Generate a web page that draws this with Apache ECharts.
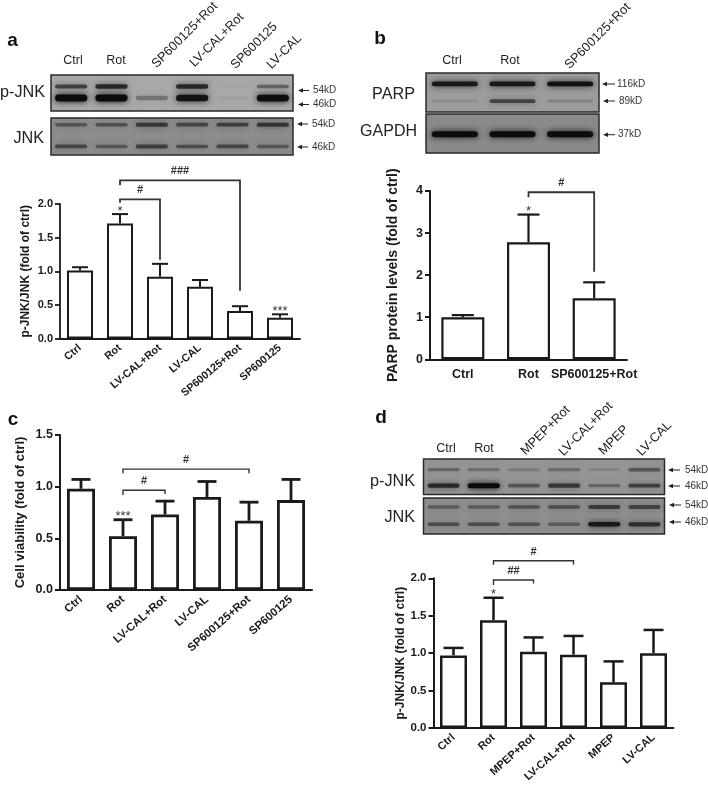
<!DOCTYPE html>
<html>
<head>
<meta charset="utf-8">
<script src="https://cdn.jsdelivr.net/npm/echarts@6/dist/echarts.min.js"></script>
<style>
  html, body { margin: 0; padding: 0; background: #fff; }
  #chart { width: 708px; height: 786px; }
</style>
</head>
<body>
<div id="chart"></div>
<script>
// bar chart data, one set per panel
const catsA = ["Ctrl", "Rot", "LV-CAL+Rot", "LV-CAL", "SP600125+Rot", "SP600125"];
const meansA = [1.01, 1.71, 0.92, 0.77, 0.41, 0.31];
const upperA = [1.06, 1.85, 1.11, 0.87, 0.48, 0.36];

const catsB = ["Ctrl", "Rot", "SP600125+Rot"];
const meansB = [1.0, 2.78, 1.45];
const upperB = [1.05, 3.44, 1.83];

const catsC = ["Ctrl", "Rot", "LV-CAL+Rot", "LV-CAL", "SP600125+Rot", "SP600125"];
const meansC = [0.98, 0.52, 0.73, 0.9, 0.67, 0.87];
const upperC = [1.07, 0.68, 0.86, 1.05, 0.85, 1.07];

const catsD = ["Ctrl", "Rot", "MPEP+Rot", "LV-CAL+Rot", "MPEP", "LV-CAL"];
const meansD = [0.97, 1.44, 1.02, 0.98, 0.61, 1.0];
const upperD = [1.07, 1.74, 1.21, 1.23, 0.89, 1.31];

// significance marks: bracket from one category to another, heights in axis units
const bracketsA = [
  { from: 1, to: 4, top: 2.35, leftEnd: 2.28, rightEnd: 0.71, label: "###" },
  { from: 1, to: 2, top: 2.07, leftEnd: 2.02, rightEnd: 1.17, label: "#" },
];
const bracketsB = [{ from: 1, to: 2, top: 3.97, leftEnd: 3.85, rightEnd: 2.08, label: "#" }];
const bracketsC = [
  { from: 1, to: 4, top: 1.17, leftEnd: 1.13, rightEnd: 1.13, label: "#" },
  { from: 1, to: 2, top: 0.965, leftEnd: 0.92, rightEnd: 0.93, label: "#" },
];
const bracketsD = [
  { from: 1, to: 3, top: 2.235, leftEnd: 2.18, rightEnd: 2.18, label: "#" },
  { from: 1, to: 2, top: 1.977, leftEnd: 1.91, rightEnd: 1.93, label: "##" },
];
const starsA = [{ cat: 1, value: 1.85, label: "*" }, { cat: 5, value: 0.36, label: "***" }];
const starsB = [{ cat: 1, value: 3.44, label: "*" }];
const starsC = [{ cat: 1, value: 0.68, label: "***" }];
const starsD = [{ cat: 1, value: 1.74, label: "*" }];

// blot band darkness per lane (0 = no band, 1 = black)
const blotA_pjnk54 = [0.6, 0.75, 0, 0.75, 0.02, 0.4];
const blotA_pjnk46 = [0.98, 0.98, 0.3, 0.9, 0.04, 0.95];
const blotA_jnk54 = [0.4, 0.42, 0.6, 0.5, 0.55, 0.62];
const blotA_jnk46 = [0.5, 0.38, 0.55, 0.45, 0.5, 0.38];
const blotB_parp116 = [0.85, 0.85, 0.9];
const blotB_parp89 = [0.1, 0.55, 0.16];
const blotB_gapdh = [0.95, 0.95, 0.95];
const blotD_pjnk54 = [0.32, 0.26, 0.18, 0.28, 0.12, 0.42];
const blotD_pjnk46 = [0.72, 1, 0.42, 0.62, 0.32, 0.58];
const blotD_jnk54 = [0.36, 0.36, 0.42, 0.46, 0.58, 0.52];
const blotD_jnk46 = [0.46, 0.46, 0.42, 0.36, 0.85, 0.68];

const FONT = "Liberation Sans";
const INK = "#1a1a1a";
const grids = [];
const xAxes = [];
const yAxes = [];
const series = [];
const graphic = [];

function addBarPanel(p) {
  const idx = grids.length;
  grids.push({ left: p.left, top: p.top, width: p.width, height: p.height });
  xAxes.push({
    gridIndex: idx,
    type: "category",
    data: p.cats,
    axisLine: { lineStyle: { color: INK, width: p.axisWidth } },
    axisTick: { alignWithLabel: true, length: 5, lineStyle: { color: INK, width: p.axisWidth } },
    axisLabel: {
      interval: 0,
      rotate: p.rotate,
      margin: p.rotate ? 8 : 9,
      color: INK,
      fontFamily: FONT,
      fontWeight: "bold",
      fontSize: p.xFont,
    },
  });
  yAxes.push({
    gridIndex: idx,
    type: "value",
    min: 0,
    max: p.max,
    interval: p.interval,
    name: p.yName,
    nameLocation: "middle",
    nameGap: p.nameGap,
    nameTextStyle: { color: INK, fontFamily: FONT, fontWeight: "bold", fontSize: p.nameFont },
    axisLine: { show: true, lineStyle: { color: INK, width: p.axisWidth } },
    axisTick: { show: true, length: 5, lineStyle: { color: INK, width: p.axisWidth } },
    axisLabel: {
      color: INK,
      fontFamily: FONT,
      fontWeight: "bold",
      fontSize: p.yFont,
      margin: 7,
      formatter: (v) => (p.interval < 1 ? v.toFixed(1) : String(v)),
    },
    splitLine: { show: false },
  });
  series.push({
    type: "bar",
    xAxisIndex: idx,
    yAxisIndex: idx,
    data: p.means,
    barWidth: p.barWidth,
    silent: true,
    itemStyle: { color: "#fff", borderColor: INK, borderWidth: p.barLine },
  });
  // error bars, only the upper half is drawn
  series.push({
    type: "custom",
    xAxisIndex: idx,
    yAxisIndex: idx,
    silent: true,
    z: 1,
    encode: { x: 0, y: 1 },
    data: p.means.map((m, i) => [i, m, p.upper[i]]),
    renderItem: (params, api) => {
      const a = api.coord([api.value(0), api.value(1)]);
      const b = api.coord([api.value(0), api.value(2)]);
      const style = { stroke: INK, lineWidth: p.barLine };
      return {
        type: "group",
        children: [
          { type: "line", shape: { x1: a[0], y1: a[1], x2: b[0], y2: b[1] }, style },
          { type: "line", shape: { x1: b[0] - p.cap / 2, y1: b[1], x2: b[0] + p.cap / 2, y2: b[1] }, style },
        ],
      };
    },
  });
  series.push({
    type: "custom",
    xAxisIndex: idx,
    yAxisIndex: idx,
    silent: true,
    clip: false,
    z: 3,
    encode: { x: 0, y: 1 },
    data: p.brackets.map((b) => [b.from, b.top]),
    renderItem: (params, api) => {
      const b = p.brackets[params.dataIndex];
      const l0 = api.coord([b.from, b.top]);
      const l1 = api.coord([b.from, b.leftEnd]);
      const r0 = api.coord([b.to, b.top]);
      const r1 = api.coord([b.to, b.rightEnd]);
      return {
        type: "group",
        children: [
          {
            type: "polyline",
            shape: { points: [l1, l0, r0, r1] },
            style: { stroke: "#333", lineWidth: p.bracketWidth, fill: null },
          },
          {
            type: "text",
            x: (l0[0] + r0[0]) / 2,
            y: l0[1] - 9,
            style: {
              text: b.label,
              fill: "#333",
              font: "bold 11px " + FONT,
              align: "center",
              verticalAlign: "middle",
            },
          },
        ],
      };
    },
  });
  series.push({
    type: "custom",
    xAxisIndex: idx,
    yAxisIndex: idx,
    silent: true,
    clip: false,
    z: 3,
    encode: { x: 0, y: 1 },
    data: p.stars.map((s) => [s.cat, s.value]),
    renderItem: (params, api) => {
      const s = p.stars[params.dataIndex];
      const c = api.coord([s.cat, s.value]);
      return {
        type: "text",
        x: c[0],
        y: c[1] - 3,
        style: { text: s.label, fill: "#333", font: "13px " + FONT, align: "center", verticalAlign: "middle" },
      };
    },
  });
}

// one western blot strip: a dark framed grid, lanes on a hidden category axis, band rows on a 0-1 axis
function addBlot(b) {
  const idx = grids.length;
  const lanes = b.rows[0].values.map((v, i) => i);
  grids.push({
    left: b.left,
    top: b.top,
    width: b.width,
    height: b.height,
    show: true,
    backgroundColor: b.bg,
    borderColor: "#2a2a2a",
    borderWidth: 1.5,
  });
  xAxes.push({ gridIndex: idx, type: "category", data: lanes, show: false });
  yAxes.push({ gridIndex: idx, type: "value", min: 0, max: 1, show: false, splitLine: { show: false } });
  b.rows.forEach((row) => {
    series.push({
      type: "custom",
      xAxisIndex: idx,
      yAxisIndex: idx,
      silent: true,
      encode: { x: 0, y: 1 },
      data: row.values.map((v, i) => [i, row.y, v]),
      renderItem: (params, api) => {
        const c = api.coord([api.value(0), api.value(1)]);
        const laneW = api.size([1, 0])[0];
        const dark = api.value(2);
        const w = laneW * 0.8;
        const h = row.h * (0.5 + 0.5 * dark);
        const color = "rgba(10,10,10," + dark + ")";
        return {
          type: "rect",
          shape: { x: c[0] - w / 2, y: c[1] - h / 2, width: w, height: h, r: h / 2 },
          style: { fill: color, shadowBlur: 6, shadowColor: color },
        };
      },
    });
  });
}

function addText(text, x, y, size, opts) {
  opts = opts || {};
  graphic.push({
    type: "text",
    x: x,
    y: y,
    rotation: opts.rotation || 0,
    silent: true,
    style: {
      text: text,
      fill: opts.color || INK,
      font: (opts.bold ? "bold " : "") + size + "px " + FONT,
      align: opts.align || "left",
      verticalAlign: "middle",
    },
  });
}

function addLaneLabels(list) {
  list.forEach((l) => {
    if (l.length === 3) addText(l[0], l[1], l[2], 12.5, { align: "center", color: "#222" });
    else addText(l[0], l[1], l[2], 12.8, { rotation: Math.PI / 4, color: "#222" });
  });
}

function addMarker(text, tip, tail, y, textX) {
  graphic.push({
    type: "line",
    silent: true,
    shape: { x1: tip + 2, y1: y, x2: tail, y2: y },
    style: { stroke: "#222", lineWidth: 1 },
  });
  graphic.push({
    type: "polygon",
    silent: true,
    shape: { points: [[tip, y], [tip + 5, y - 2.2], [tip + 5, y + 2.2]] },
    style: { fill: "#222" },
  });
  addText(text, textX, y, 10, { color: "#333" });
}

addBarPanel({
  left: 60, top: 204, width: 240, height: 134.5,
  cats: catsA, means: meansA, upper: upperA, brackets: bracketsA, stars: starsA,
  max: 2, interval: 0.5, barWidth: 26, cap: 16, bracketWidth: 1.8, barLine: 2, axisWidth: 1.8,
  yName: "p-JNK/JNK (fold of ctrl)", nameGap: 28, nameFont: 12, yFont: 11, xFont: 10.8, rotate: 40,
});
addBarPanel({
  left: 430, top: 191, width: 197, height: 168.3,
  cats: catsB, means: meansB, upper: upperB, brackets: bracketsB, stars: starsB,
  max: 4, interval: 1, barWidth: 43, cap: 22, bracketWidth: 1.8, barLine: 2.2, axisWidth: 2,
  yName: "PARP protein levels (fold of ctrl)", nameGap: 30, nameFont: 14, yFont: 12.5, xFont: 12.5, rotate: 0,
});
addBarPanel({
  left: 60, top: 435, width: 252, height: 155,
  cats: catsC, means: meansC, upper: upperC, brackets: bracketsC, stars: starsC,
  max: 1.5, interval: 0.5, barWidth: 28, cap: 19, bracketWidth: 1.4, barLine: 2.8, axisWidth: 2,
  yName: "Cell viability (fold of ctrl)", nameGap: 33, nameFont: 13, yFont: 12.5, xFont: 11.4, rotate: 41,
});
addBarPanel({
  left: 433.5, top: 578.3, width: 240, height: 149.7,
  cats: catsD, means: meansD, upper: upperD, brackets: bracketsD, stars: starsD,
  max: 2, interval: 0.5, barWidth: 27, cap: 20, bracketWidth: 1.4, barLine: 2.5, axisWidth: 2,
  yName: "p-JNK/JNK (fold of ctrl)", nameGap: 27, nameFont: 12, yFont: 11.5, xFont: 11, rotate: 42,
});

addBlot({
  left: 51, top: 75, width: 242, height: 36, bg: "#a8a8a8",
  rows: [{ y: 0.68, h: 5, values: blotA_pjnk54 }, { y: 0.36, h: 7, values: blotA_pjnk46 }],
});
addBlot({
  left: 51, top: 118, width: 242, height: 37, bg: "#8c8c8c",
  rows: [{ y: 0.82, h: 5, values: blotA_jnk54 }, { y: 0.23, h: 5, values: blotA_jnk46 }],
});
addBlot({
  left: 426, top: 73, width: 173, height: 39, bg: "#9c9c9c",
  rows: [{ y: 0.72, h: 5, values: blotB_parp116 }, { y: 0.28, h: 5, values: blotB_parp89 }],
});
addBlot({
  left: 426, top: 114, width: 173, height: 39, bg: "#8a8a8a",
  rows: [{ y: 0.48, h: 6, values: blotB_gapdh }],
});
addBlot({
  left: 423.5, top: 459, width: 241, height: 35.5, bg: "#959595",
  rows: [{ y: 0.7, h: 5, values: blotD_pjnk54 }, { y: 0.25, h: 5, values: blotD_pjnk46 }],
});
addBlot({
  left: 423.5, top: 498, width: 241, height: 36, bg: "#8e8e8e",
  rows: [{ y: 0.75, h: 5, values: blotD_jnk54 }, { y: 0.27, h: 5, values: blotD_jnk46 }],
});

// panel letters
addText("a", 12.5, 41, 19, { bold: true, align: "center", color: "#111" });
addText("b", 380, 39, 19, { bold: true, align: "center", color: "#111" });
addText("c", 13, 420, 19, { bold: true, align: "center", color: "#111" });
addText("d", 381, 418, 19, { bold: true, align: "center", color: "#111" });

// blot labels
addText("p-JNK", 45, 93, 16.2, { align: "right", color: "#222" });
addText("JNK", 44, 139, 16.2, { align: "right", color: "#222" });
addText("PARP", 415, 95, 16.2, { align: "right", color: "#222" });
addText("GAPDH", 417, 132, 16, { align: "right", color: "#222" });
addText("p-JNK", 415, 482, 16.2, { align: "right", color: "#222" });
addText("JNK", 415, 518, 16.2, { align: "right", color: "#222" });

addLaneLabels([
  ["Ctrl", 73, 61], ["Rot", 116, 61],
  ["SP600125+Rot", 154, 66, "r"], ["LV-CAL+Rot", 192, 65, "r"], ["SP600125", 233, 67, "r"], ["LV-CAL", 269, 67, "r"],
  ["Ctrl", 452, 61], ["Rot", 510, 61],
  ["SP600125+Rot", 567, 67, "r"],
  ["Ctrl", 446, 449], ["Rot", 484, 449],
  ["MPEP+Rot", 523, 453, "r"], ["LV-CAL+Rot", 561, 454, "r"], ["MPEP", 601, 453, "r"], ["LV-CAL", 639, 454, "r"],
]);

addMarker("54kD", 298, 309, 90.5, 313);
addMarker("46kD", 298, 309, 104.5, 313);
addMarker("54kD", 297, 308, 124, 312);
addMarker("46kD", 297, 308, 147, 312);
addMarker("116kD", 602, 615, 84, 617);
addMarker("89kD", 603, 615, 101, 619);
addMarker("37kD", 603, 615, 134.7, 618);
addMarker("54kD", 668, 680, 470, 685);
addMarker("46kD", 668, 680, 486, 685);
addMarker("54kD", 669, 681, 505, 685);
addMarker("46kD", 669, 681, 522, 685);

const chart = echarts.init(document.getElementById("chart"), null, { renderer: "canvas" });
chart.setOption({
  animation: false,
  backgroundColor: "#fff",
  tooltip: { show: false },
  grid: grids,
  xAxis: xAxes,
  yAxis: yAxes,
  series: series,
  graphic: graphic,
});
</script>
</body>
</html>
